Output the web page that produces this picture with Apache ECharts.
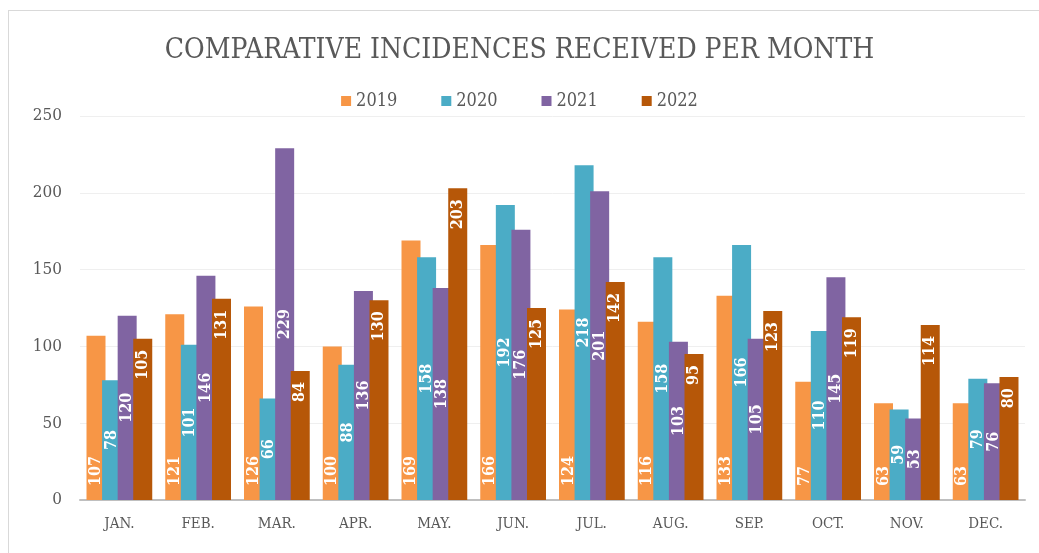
<!DOCTYPE html>
<html><head><meta charset="utf-8">
<script src="https://cdn.jsdelivr.net/npm/echarts@6/dist/echarts.min.js"></script>
<style>
html,body{margin:0;padding:0;background:#fff;}
#frame{position:absolute;left:8px;top:10px;width:1040px;height:560px;border:1px solid #d9d9d9;box-sizing:border-box;}
#c{position:absolute;left:0;top:0;width:1039px;height:553px;}
</style></head>
<body><div id="frame"></div><div id="c"></div>
<script>
const months = ['JAN.','FEB.','MAR.','APR.','MAY.','JUN.','JUL.','AUG.','SEP.','OCT.','NOV.','DEC.'];
const years = ['2019','2020','2021','2022'];
const v2019 = [107,121,126,100,169,166,124,116,133,77,63,63];
const v2020 = [78,101,66,88,158,192,218,158,166,110,59,79];
const v2021 = [120,146,229,136,138,176,201,103,105,145,53,76];
const v2022 = [105,131,84,130,203,125,142,95,123,119,114,80];
const colors = ['#F79646','#4BACC6','#8064A2','#B65708'];
const labelPos = ['insideBottom','inside','inside','insideTop'];
const labelAlign = ['left','center','center','right'];
const labelDist = [14,5,5,11];
const serif = "'DejaVu Serif Condensed', 'DejaVu Serif', 'Liberation Serif', serif";
const chart = echarts.init(document.getElementById('c'));
const all = [v2019,v2020,v2021,v2022];
chart.setOption({
  animation:false,
  title:{text:'COMPARATIVE INCIDENCES RECEIVED PER MONTH',left:'center',top:32,
    textStyle:{fontFamily:serif,fontSize:28,fontWeight:'normal',color:'#595959'}},
  legend:{top:87,left:'center',itemWidth:10,itemHeight:10,itemGap:44,icon:'rect',
    textStyle:{fontFamily:serif,fontSize:18,color:'#595959'}},
  grid:{left:80,right:14,top:116,bottom:53},
  xAxis:{type:'category',data:months,axisTick:{show:false},
    axisLine:{lineStyle:{color:'#BFBFBF',width:2}},
    axisLabel:{fontFamily:serif,fontSize:15,color:'#595959',margin:17}},
  yAxis:{type:'value',min:0,max:250,interval:50,
    axisLabel:{fontFamily:serif,fontSize:17,color:'#595959',margin:18},
    splitLine:{lineStyle:{color:'#EFEFEF'}}},
  series: years.map((y,i)=>({
    name:y,type:'bar',data:all[i],barWidth:19,barGap:'-18%',barCategoryGap:'18%',
    itemStyle:{color:colors[i]},
    label:{show:true,position:labelPos[i],rotate:90,align:labelAlign[i],verticalAlign:'middle',
      color:'#fff',fontWeight:'bold',fontFamily:serif,fontSize:16,distance:labelDist[i]}
  }))
});
</script></body></html>
